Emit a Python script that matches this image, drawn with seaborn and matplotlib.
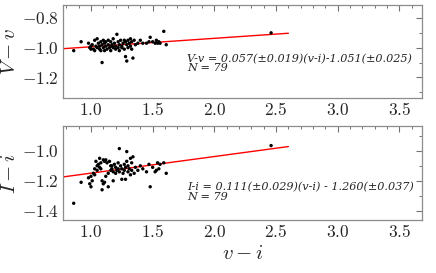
import matplotlib
matplotlib.use("Agg")
from matplotlib import pyplot as plt
from matplotlib.ticker import MultipleLocator, FuncFormatter
import numpy as np
import pandas as pd
import seaborn as sns

# colour v-i (shared by both panels)
vi = [0.86, 0.92, 0.98, 0.99, 1.00, 1.00, 1.01, 1.02, 1.03, 1.03,
      1.04, 1.05, 1.05, 1.06, 1.07, 1.07, 1.08, 1.08, 1.09, 1.09,
      1.10, 1.10, 1.11, 1.11, 1.12, 1.12, 1.13, 1.14, 1.14, 1.15,
      1.16, 1.16, 1.17, 1.18, 1.18, 1.19, 1.20, 1.20, 1.21, 1.22,
      1.22, 1.23, 1.23, 1.24, 1.25, 1.25, 1.26, 1.27, 1.27, 1.28,
      1.28, 1.29, 1.29, 1.30, 1.30, 1.31, 1.32, 1.32, 1.33, 1.33,
      1.34, 1.35, 1.36, 1.38, 1.40, 1.42, 1.45, 1.47, 1.48, 1.50,
      1.52, 1.53, 1.54, 1.55, 1.56, 1.59, 1.61, 2.46, 1.17]

Vv = [-1.02, -0.96, -0.97, -1.00, -0.99, -1.01, -0.98, -1.01, -0.95, -1.02,
      -0.99, -0.94, -1.00, -0.97, -1.01, -0.99, -0.96, -1.02, -1.10, -0.98,
      -0.95, -1.00, -0.97, -1.02, -0.96, -0.99, -1.01, -0.95, -0.98, -1.00,
      -0.96, -1.02, -0.98, -0.94, -1.00, -0.97, -0.99, -1.01, -0.91, -0.96,
      -1.00, -0.98, -1.02, -0.95, -0.99, -1.00, -0.97, -0.95, -1.01, -0.96,
      -1.06, -1.09, -0.98, -0.95, -1.00, -0.97, -0.94, -0.99, -0.96, -1.01,
      -1.07, -0.95, -0.98, -0.97, -0.95, -0.97, -0.97, -0.96, -0.93, -0.96,
      -0.97, -0.95, -0.97, -0.96, -0.97, -0.89, -0.98, -0.90, -0.99]

Ii = [-1.35, -1.21, -1.18, -1.22, -1.24, -1.17, -1.20, -1.15, -1.16, -1.12,
      -1.07, -1.10, -1.13, -1.09, -1.11, -1.05, -1.08, -1.12, -1.20, -1.26,
      -1.22, -1.06, -1.21, -1.07, -1.17, -1.06, -1.08, -1.24, -1.15, -1.07,
      -1.13, -1.10, -1.12, -1.20, -1.14, -1.09, -1.15, -1.11, -1.13, -1.08,
      -1.12, -0.985, -1.14, -1.10, -1.19, -1.12, -1.15, -1.09, -1.13, -1.19,
      -1.11, -1.005, -1.07, -1.14, -1.10, -1.12, -1.05, -1.16, -1.08, -1.13,
      -1.04, -1.15, -1.11, -1.13, -1.10, -1.12, -1.14, -1.09, -1.24, -1.11,
      -1.14, -1.13, -1.08, -1.12, -1.09, -1.08, -1.15, -0.965, -1.10]

# fit coefficients (slope, intercept) and range of the fitted line
fit_V = (0.057, -1.051)
fit_I = (0.111, -1.260)
fit_x = [0.70, 2.60]

labels = ["V-v = 0.057(\u00b10.019)(v-i)-1.051(\u00b10.025)\nN = 79",
          "I-i = 0.111(\u00b10.029)(v-i) - 1.260(\u00b10.037)\nN = 79"]

sns.set_style("white")
plt.rcParams['mathtext.fontset'] = 'cm'
plt.rcParams['font.family'] = ['DejaVu Serif']

fig = plt.figure(figsize=(4.36, 2.73), dpi=100)
ax1 = fig.add_axes([0.145, 0.640, 0.822, 0.343])
ax2 = fig.add_axes([0.145, 0.194, 0.822, 0.344])

df = pd.DataFrame({"vi": vi, "Vv": Vv, "Ii": Ii})
fmt = FuncFormatter(lambda v, p: "$%.1f$" % v)

for ax, col, fit, lab, ylab, ylim, ty in [
        (ax1, "Vv", fit_V, labels[0], "$V-v$", (-1.341, -0.71), 0.37),
        (ax2, "Ii", fit_I, labels[1], "$I-i$", (-1.462, -0.835), 0.30)]:
    fx = np.array(fit_x)
    sns.lineplot(x=fx, y=fit[0] * fx + fit[1], ax=ax, color='red', lw=1.0)
    sns.scatterplot(data=df, x="vi", y=col, ax=ax, color='black', s=6,
                    edgecolor='none', zorder=3)
    ax.set_xlim(0.775, 3.68)
    ax.set_ylim(*ylim)
    ax.xaxis.set_major_locator(MultipleLocator(0.5))
    ax.xaxis.set_minor_locator(MultipleLocator(0.1))
    ax.yaxis.set_major_locator(MultipleLocator(0.2))
    ax.yaxis.set_minor_locator(MultipleLocator(0.1))
    ax.xaxis.set_major_formatter(fmt)
    ax.yaxis.set_major_formatter(fmt)
    ax.tick_params(which='both', direction='in', top=True, right=True,
                   color='0.45', labelsize=12.5, pad=3)
    ax.tick_params(which='major', length=4.5, width=0.8)
    ax.tick_params(which='minor', length=2.5, width=0.7)
    for s in ax.spines.values():
        s.set_color('0.55')
        s.set_linewidth(0.9)
    ax.set_ylabel(ylab, fontsize=15, labelpad=2)
    ax.set_xlabel("")
    ax.text(0.345, ty, lab, transform=ax.transAxes, ha='left', va='center',
            fontsize=8.15, fontstyle='italic', family='DejaVu Serif',
            linespacing=0.9)

ax2.set_xlabel("$v-i$", fontsize=15, labelpad=2)

fig.savefig("out.png", dpi=100)
